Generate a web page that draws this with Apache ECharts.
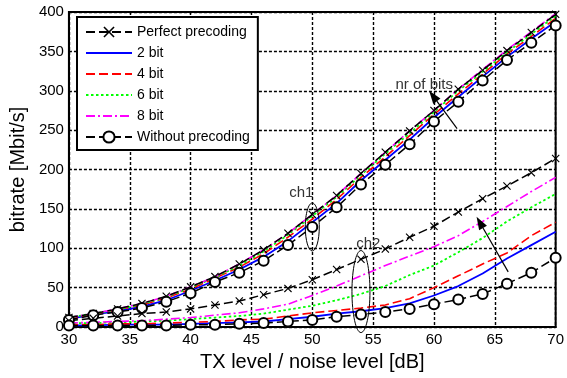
<!DOCTYPE html>
<html>
<head>
<meta charset="utf-8">
<script src="https://cdn.jsdelivr.net/npm/echarts@6/dist/echarts.min.js"></script>
<style>html,body{margin:0;padding:0;background:#fff}#c{width:567px;height:378px}</style>
</head>
<body>
<div id="c"></div>
<script>
// x values (TX level / noise level, dB)
const xs = [30,32,34,36,38,40,42,44,46,48,50,52,54,56,58,60,62,64,66,68,70];
// channel 1 (upper bundle)
const perfectCh1 = [12,17,23,30,39,51,64,80,98,119,143,167,195,222,249,275,302,326,351,374,397];
const bit2Ch1    = [10,16,20,26,34,46,59,73,89,109,133,157,186,212,238,266,292,318,343,366,388];
const bit4Ch1    = [11,16,22,28,37,48,62,76,93,114,137,162,190,216,243,270,296,321,347,369,392];
const bit6Ch1    = [12,17,22,29,38,50,63,78,96,117,141,165,193,220,246,273,300,324,349,372,395];
const bit8Ch1    = [12,17,23,30,39,51,64,80,98,119,143,167,195,222,249,275,302,327,352,375,398];
const withoutCh1 = [9,15,19,24,32,43,57,69,84,104,127,152,181,206,232,261,286,313,339,361,383];
// channel 2 (lower bundle)
const perfectCh2 = [8,11,14,17,19,23,28,33,41,49,60,73,86,99,114,128,146,163,179,196,214];
const bit2Ch2    = [2,2,3,3,3,4,5,6,7,10,13,17,20,24,30,40,52,68,87,104,121];
const bit4Ch2    = [3,3,4,4,5,6,7,9,10,14,18,21,24,28,36,50,65,80,94,116,133];
const bit6Ch2    = [5,5,6,7,8,10,12,14,17,22,27,34,42,52,66,78,95,113,134,152,169];
const bit8Ch2    = [5,6,7,8,10,12,15,18,23,29,40,52,65,78,90,102,116,134,153,172,190];
const withoutCh2 = [2,2,2,2,2,3,3,4,5,7,9,13,16,19,23,29,35,42,55,69,88];
// axis ticks
const xTicks = {min: 30, max: 70, step: 5};
const yTicks = {min: 0, max: 400, step: 50};
const names = ['Perfect precoding','2 bit','4 bit','6 bit','8 bit','Without precoding'];

const FONT = 'Liberation Sans, Arial, Helvetica, sans-serif';
const xMark = 'path://M1,0L5,4L9,0L10,1L6,5L10,9L9,10L5,6L1,10L0,9L4,5L0,1Z';
const noMark = 'path://M0,0L1,0L1,1L0,1Z';

const styles = {
  'Perfect precoding': {color:'#000', type:[9,4], width:1.5, symbol:xMark, symbolSize:8},
  '2 bit': {color:'#0000ff', type:'solid', width:1.8, symbol:noMark},
  '4 bit': {color:'#ff0000', type:[9,4], width:1.6, symbol:noMark},
  '6 bit': {color:'#00ff00', type:[2.5,2.5], width:1.8, symbol:noMark},
  '8 bit': {color:'#ff00ff', type:[9,3,2,3], width:1.6, symbol:noMark},
  'Without precoding': {color:'#000', type:[9,4], width:1.5, symbol:'emptyCircle', symbolSize:10}
};

function mk(name, vals) {
  const s = styles[name];
  const has = s.symbol !== noMark;
  return {
    type:'line', name: name,
    data: xs.map((x,i)=>[x, vals[i]]),
    symbol: s.symbol, symbolSize: has ? s.symbolSize : 1, showSymbol: has,
    lineStyle: {color: s.color, type: s.type, width: s.width},
    itemStyle: {color: has ? s.color : 'rgba(0,0,0,0)', borderWidth: s.symbol === 'emptyCircle' ? 1.8 : 0},
    emphasis: {disabled: true}, silent: true, z: 3
  };
}

const series = [
  mk('2 bit', bit2Ch1), mk('4 bit', bit4Ch1), mk('6 bit', bit6Ch1), mk('8 bit', bit8Ch1),
  mk('Perfect precoding', perfectCh1), mk('Without precoding', withoutCh1),
  mk('2 bit', bit2Ch2), mk('4 bit', bit4Ch2), mk('6 bit', bit6Ch2), mk('8 bit', bit8Ch2),
  mk('Perfect precoding', perfectCh2), mk('Without precoding', withoutCh2)
];

const chart = echarts.init(document.getElementById('c'), null, {renderer:'canvas'});
const splitStyle = {show:true, lineStyle:{color:'#000', type:[3,2], width:1.4}};
chart.setOption({
  animation: false,
  backgroundColor: '#fff',
  grid: {left: 68, right: 10, top: 12, bottom: 51, show: true, borderColor:'#000', borderWidth: 2, backgroundColor:'transparent'},
  xAxis: {
    type:'value', min: xTicks.min, max: xTicks.max, interval: xTicks.step,
    name: 'TX level / noise level [dB]', nameLocation:'middle', nameGap: 25,
    nameTextStyle: {fontFamily: FONT, fontSize: 20, color:'#000'},
    axisLine: {show:true, lineStyle:{color:'#000', width:2}},
    axisTick: {show:false},
    axisLabel: {fontFamily: FONT, fontSize: 15, color:'#000', margin: 5},
    splitLine: splitStyle
  },
  yAxis: {
    type:'value', min: yTicks.min, max: yTicks.max, interval: yTicks.step,
    name: 'bitrate [Mbit/s]', nameLocation:'middle', nameGap: 37,
    nameTextStyle: {fontFamily: FONT, fontSize: 20, color:'#000'},
    axisLine: {show:true, lineStyle:{color:'#000', width:2}},
    axisTick: {show:false},
    axisLabel: {fontFamily: FONT, fontSize: 15, color:'#000', margin: 5},
    splitLine: splitStyle
  },
  legend: {
    data: names, orient:'vertical', left: 77, top: 17,
    itemWidth: 46, itemHeight: 14, itemGap: 7, padding: [8, 8, 6, 8],
    borderColor:'#000', borderWidth: 2, backgroundColor:'#fff',
    textStyle: {fontFamily: FONT, fontSize: 14, color:'#000'},
    selectedMode: false
  },
  series: series
});

// annotations in data coordinates
const annotations = {
  ellipses: [{x:50, y:127, rx:7, ry:24}, {x:54, y:45, rx:9, ry:41}],
  labels: [{x:49.1, y:170, text:'ch1'}, {x:54.6, y:106, text:'ch2'}, {x:59.2, y:307, text:'nr of bits'}],
  arrows: [{from:[61.9, 252], to:[59.6, 300]}, {from:[66.1, 70], to:[63.5, 140]}]
};
const P = (x,y) => chart.convertToPixel({gridIndex:0}, [x,y]);
const g = [];
annotations.ellipses.forEach(e => {
  const c = P(e.x, e.y);
  g.push({type:'ellipse', shape:{cx:c[0], cy:c[1], rx:e.rx, ry:e.ry}, style:{fill:null, stroke:'#000', lineWidth:1}, z:10});
});
annotations.labels.forEach(l => {
  const c = P(l.x, l.y);
  g.push({type:'text', x:c[0], y:c[1], style:{text:l.text, fill:'#333', font:'15px ' + FONT, align:'center', verticalAlign:'middle'}, z:10});
});
annotations.arrows.forEach(a => {
  const p0 = P(a.from[0], a.from[1]), p1 = P(a.to[0], a.to[1]);
  const dx = p1[0]-p0[0], dy = p1[1]-p0[1], L = Math.hypot(dx,dy);
  const ux = dx/L, uy = dy/L, hl = 13, hw = 4.5;
  const bx = p1[0]-ux*hl, by = p1[1]-uy*hl;
  g.push({type:'line', shape:{x1:p0[0], y1:p0[1], x2:bx, y2:by}, style:{stroke:'#000', lineWidth:1.2}, z:10});
  g.push({type:'polygon', shape:{points:[[p1[0],p1[1]],[bx-uy*hw, by+ux*hw],[bx+uy*hw, by-ux*hw]]}, style:{fill:'#000'}, z:10});
});
chart.setOption({graphic: g});
</script>
</body>
</html>
